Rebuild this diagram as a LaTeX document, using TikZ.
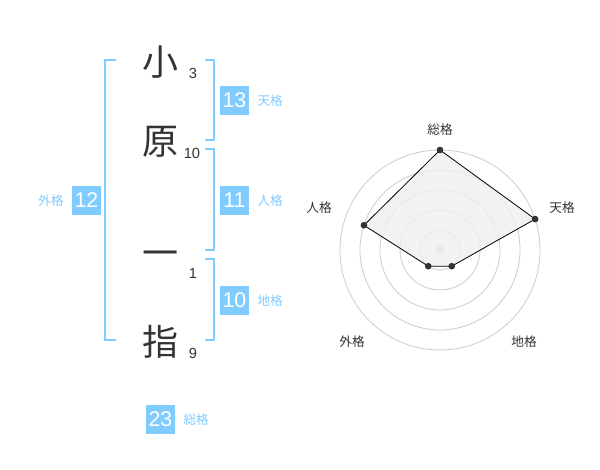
\documentclass[tikz,border=0pt]{standalone}
\usepackage{fontspec}
\setmainfont{Liberation Sans}
\newfontfamily\jp{Noto Sans CJK JP}
\usepackage{tikz}

\definecolor{celeste}{HTML}{80CCFF}
\definecolor{tinta}{HTML}{333333}
\definecolor{anillo}{HTML}{CCCCCC}
\definecolor{relleno}{HTML}{EFEFEF}

\begin{document}
\begin{tikzpicture}[x=0.75pt,y=-0.75pt]
    \tikzset{Kanji/.style = {font=\jp\fontsize{27}{27}\selectfont,text=tinta,inner sep=0pt}}
    \tikzset{Trazos/.style = {font=\fontsize{11}{11}\selectfont,text=tinta,inner sep=0pt}}
    \tikzset{Caja/.style = {fill=celeste,text=white,minimum size=21.75pt,inner sep=0pt,font=\fontsize{16}{16}\selectfont}}
    \tikzset{Etiqueta/.style = {font=\jp\fontsize{9.5}{9.5}\selectfont,text=celeste,inner sep=0pt}}
    \tikzset{Corchete/.style = {draw=celeste,line width=1.5pt}}
    \tikzset{Eje/.style = {font=\jp\fontsize{9.5}{9.5}\selectfont,text=tinta,inner sep=0pt}}
    \tikzset{Anillo/.style = {draw=anillo,line width=0.6pt}}
    \tikzset{Punto/.style = {shape=circle,fill=tinta,minimum size=5pt,inner sep=0pt}}

    \useasboundingbox (0,0) rectangle (600,470);
    \fill[white] (0,0) rectangle (600,470);

    %Caracteres del nombre
    \node[Kanji] (k1) at (160,62) {小};
    \node[Kanji] (k2) at (160,142) {原};
    \node[Kanji] (k3) at (160,259) {一};
    \node[Kanji] (k4) at (160,342) {指};

    \node[Trazos] (t1) at (193,73) {3};
    \node[Trazos] (t2) at (192,153) {10};
    \node[Trazos] (t3) at (193,273) {1};
    \node[Trazos] (t4) at (193,353) {9};

    %Corchetes
    \draw[Corchete] (116,60) -- (105,60) -- (105,340) -- (116,340);
    \draw[Corchete] (205,60) -- (214,60) -- (214,140) -- (205,140);
    \draw[Corchete] (205,149) -- (214,149) -- (214,250) -- (205,250);
    \draw[Corchete] (205,259) -- (214,259) -- (214,340) -- (205,340);

    %Cajas de resultados
    \node[Caja] (ten) at (234.5,100.5) {13};
    \node[Etiqueta, anchor=west] (tenL) at ([xshift=6pt]ten.east) {天格};
    \node[Caja] (jin) at (234.5,200.5) {11};
    \node[Etiqueta, anchor=west] (jinL) at ([xshift=6pt]jin.east) {人格};
    \node[Caja] (chi) at (234.5,300.5) {10};
    \node[Etiqueta, anchor=west] (chiL) at ([xshift=6pt]chi.east) {地格};
    \node[Caja] (gai) at (86.5,200.5) {12};
    \node[Etiqueta, anchor=east] (gaiL) at ([xshift=-6pt]gai.west) {外格};
    \node[Caja] (sou) at (160.5,419.5) {23};
    \node[Etiqueta, anchor=west] (souL) at ([xshift=6pt]sou.east) {総格};

    %Grafico radial
    \begin{scope}[shift={(440,250)},y=0.75pt]
        \foreach \r in {20,40,...,100}
            \draw[Anillo] (0,0) circle[radius=\r];
        \fill[anillo] (0,0) circle[radius=4];

        \coordinate (vSou) at (90:100);
        \coordinate (vTen) at (18:100);
        \coordinate (vChi) at (-54:20);
        \coordinate (vGai) at (-126:20);
        \coordinate (vJin) at (162:80);

        \filldraw[fill=relleno,fill opacity=0.8,draw=black,line width=0.6pt]
            (vSou) -- (vTen) -- (vChi) -- (vGai) -- (vJin) -- cycle;

        \node[Punto] (pSou) at (vSou) {};
        \node[Punto] (pTen) at (vTen) {};
        \node[Punto] (pChi) at (vChi) {};
        \node[Punto] (pGai) at (vGai) {};
        \node[Punto] (pJin) at (vJin) {};

        \node[Eje] (eSou) at (0,120) {総格};
        \node[Eje] (eTen) at (122,42) {天格};
        \node[Eje] (eJin) at (-121,42) {人格};
        \node[Eje] (eGai) at (-88,-92) {外格};
        \node[Eje] (eChi) at (84,-92) {地格};
    \end{scope}

\end{tikzpicture}
\end{document}
